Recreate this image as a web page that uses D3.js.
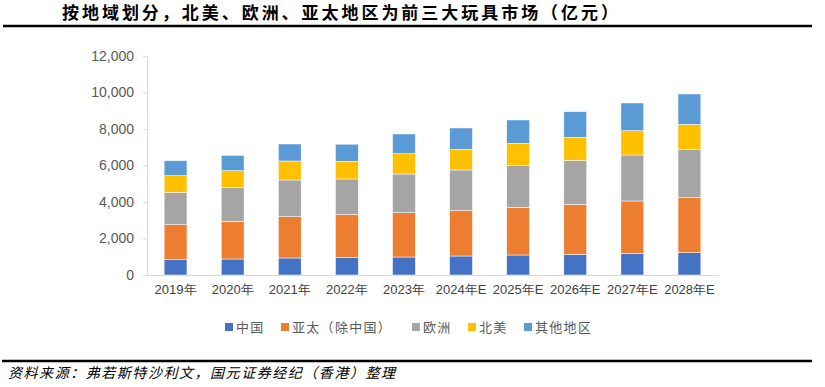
<!DOCTYPE html>
<html>
<head>
<meta charset="utf-8">
<script src="https://cdn.jsdelivr.net/npm/d3@7"></script>
<style>
  body { margin: 0; background: #fff; }
  svg { display: block; font-family: "Liberation Sans", "Noto Sans CJK SC", sans-serif; }
</style>
</head>
<body>
<div id="chart"></div>
<script>
const years = ['2019年', '2020年', '2021年', '2022年', '2023年', '2024年E', '2025年E', '2026年E', '2027年E', '2028年E'];
const seriesNames = ['中国', '亚太（除中国）', '欧洲', '北美', '其他地区'];
const seriesColors = ['#4472C4', '#ED7D31', '#A5A5A5', '#FFC000', '#5B9BD5'];
const china = [840, 877, 932, 948, 986, 1041, 1096, 1129, 1184, 1222];
const apac = [1917, 2060, 2263, 2373, 2428, 2499, 2608, 2740, 2871, 3014];
const europe = [1770, 1863, 2011, 1940, 2121, 2214, 2286, 2411, 2521, 2630];
const northAmerica = [915, 916, 1041, 964, 1112, 1129, 1222, 1260, 1332, 1387];
const other = [822, 838, 932, 943, 1080, 1173, 1282, 1409, 1518, 1666];
const yTicks = [0, 2000, 4000, 6000, 8000, 10000, 12000];

const W = 825, H = 387;
const svg = d3.select('#chart').append('svg')
    .attr('width', W)
    .attr('height', H);

// table for the stack
const keys = ['china', 'apac', 'europe', 'na', 'other'];
const table = years.map((y, i) => ({
    year: y, china: china[i], apac: apac[i], europe: europe[i], na: northAmerica[i], other: other[i]
}));
const stacked = d3.stack().keys(keys)(table);

const x = d3.scaleBand()
    .domain(years)
    .range([147, 718])
    .paddingInner(0.6)
    .paddingOuter(0.3);

const y = d3.scaleLinear()
    .domain([0, 12000])
    .range([275, 56]);

// Title
svg.append('text')
    .attr('x', 62)
    .attr('y', 19)
    .attr('textLength', 556)
    .style('font-family', '"Noto Sans CJK SC", sans-serif')
    .style('font-weight', 'bold')
    .style('font-size', '17px')
    .style('fill', '#000')
    .text('按地域划分，北美、欧洲、亚太地区为前三大玩具市场（亿元）');

svg.append('line')
    .attr('x1', 3).attr('x2', 812)
    .attr('y1', 26).attr('y2', 26)
    .style('stroke', '#000')
    .style('stroke-width', 2.5);

// Axes
const yAxis = svg.append('g')
    .attr('transform', 'translate(147,0)')
    .call(d3.axisLeft(y).tickValues(yTicks).tickSize(4).tickPadding(9).tickFormat(d3.format(',')));
yAxis.select('.domain').style('stroke', '#D9D9D9');
yAxis.selectAll('.tick line').style('stroke', '#D9D9D9');
yAxis.selectAll('text')
    .style('font-size', '14px')
    .style('fill', '#595959');

const xAxis = svg.append('g')
    .attr('transform', 'translate(0,275)')
    .call(d3.axisBottom(x).tickSize(0).tickPadding(10));
xAxis.select('.domain').style('stroke', '#D9D9D9');
xAxis.selectAll('text')
    .style('font-size', '13px')
    .style('fill', '#404040');

// Bars
svg.append('g').selectAll('g')
    .data(stacked)
    .join('g')
    .style('fill', (d, i) => seriesColors[i])
    .selectAll('rect')
    .data(d => d)
    .join('rect')
    .attr('x', d => x(d.data.year))
    .attr('y', d => y(d[1]))
    .attr('width', x.bandwidth())
    .attr('height', d => y(d[0]) - y(d[1]))
    .style('stroke', '#fff')
    .style('stroke-width', 0.5);

// Legend
const legendX = [225, 281, 412, 468, 524];
const legend = svg.append('g');
seriesNames.forEach((name, i) => {
    legend.append('rect')
        .attr('x', legendX[i])
        .attr('y', 323)
        .attr('width', 8)
        .attr('height', 8)
        .style('fill', seriesColors[i]);
    legend.append('text')
        .attr('x', legendX[i] + 11)
        .attr('y', 332)
        .style('font-family', '"Noto Sans CJK SC", sans-serif')
        .style('font-size', '13px')
        .style('letter-spacing', '1.3px')
        .style('fill', '#595959')
        .text(name);
});

// Footer
svg.append('line')
    .attr('x1', 2).attr('x2', 812)
    .attr('y1', 361).attr('y2', 361)
    .style('stroke', '#000')
    .style('stroke-width', 2.5);

svg.append('text')
    .attr('x', 8)
    .attr('y', 378)
    .attr('textLength', 387)
    .style('font-family', '"Noto Sans CJK SC", sans-serif')
    .style('font-style', 'italic')
    .style('font-size', '14px')
    .style('fill', '#000')
    .text('资料来源：弗若斯特沙利文，国元证券经纪（香港）整理');
</script>
</body>
</html>
